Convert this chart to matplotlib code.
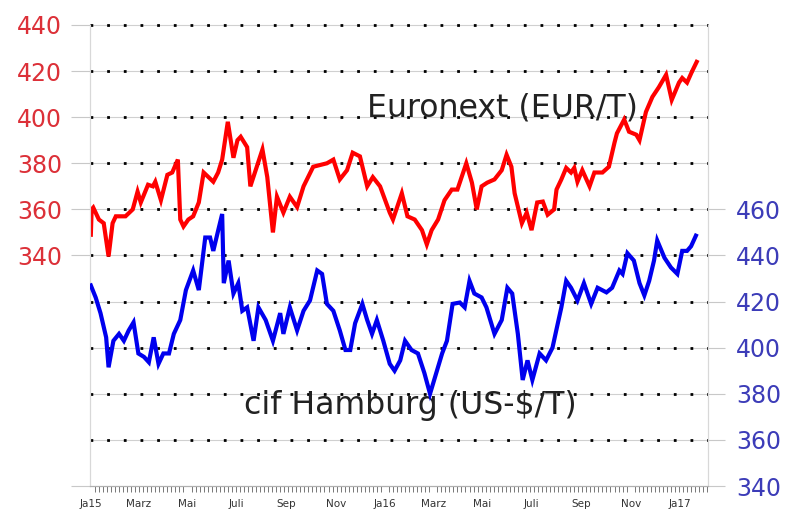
import numpy as np
import matplotlib
matplotlib.use("Agg")
import matplotlib.pyplot as plt
import matplotlib.dates as mdates
from matplotlib.ticker import FixedLocator

# days since 2015-01-01 and prices
euronext_days = [0, 1, 3, 10, 16, 22, 27, 31, 43, 52, 58, 62, 71, 77, 80, 87, 95, 101, 108, 111,
                 115, 121, 127, 134, 140, 146, 152, 158, 163, 170, 177, 182, 186, 194, 198, 213,
                 219, 226, 231, 239, 247, 256, 264, 276, 293, 301, 309, 318, 325, 334, 343, 350,
                 359, 371, 375, 386, 393, 402, 411, 417, 423, 431, 439, 448, 455, 466, 473, 479,
                 485, 492, 501, 510, 516, 522, 526, 535, 541, 547, 554, 561, 567, 575, 578, 584,
                 590, 596, 600, 604, 610, 619, 625, 635, 643, 650, 653, 662, 668, 677, 681, 689,
                 697, 705, 714, 721, 730, 734, 740, 746, 752]
euronext = [349, 360, 360.8, 355.6, 354, 339.6, 354, 357, 357, 360, 367.7, 363, 370.7, 370, 372,
            364, 375, 376, 381.6, 355.6, 352.6, 355.6, 357, 363, 376, 374, 372, 376, 381.6, 398,
            382.4, 390, 391.5, 387, 370, 386, 374, 350, 365.5, 358.6, 365.5, 361, 370, 378.5, 380,
            381.6, 373, 377, 384.6, 383, 370, 374, 370, 358.6, 355.6, 367, 357, 355.6, 351, 344.8,
            351, 355.6, 364, 368.6, 368.6, 380, 371.6, 360, 370, 371.6, 373, 377, 383.7, 378.5,
            367, 354, 358.6, 351, 363, 363.4, 357.7, 360, 368.6, 373, 378, 376, 378, 372, 377, 370,
            376, 376, 378.5, 389, 393, 399, 393.7, 392.4, 390, 402.3, 408.8, 413, 418.4, 407.5,
            415, 417, 415, 419.7, 424]

hamburg_days = [0, 6, 12, 19, 22, 28, 35, 41, 47, 53, 59, 66, 72, 78, 84, 90, 97, 103, 111, 118,
                127, 134, 142, 148, 152, 158, 163, 165, 171, 177, 183, 188, 194, 202, 208, 217,
                226, 235, 239, 247, 256, 264, 272, 281, 287, 293, 301, 309, 316, 322, 328, 337,
                343, 349, 355, 363, 371, 377, 384, 390, 398, 406, 414, 421, 427, 436, 442, 449,
                458, 464, 470, 476, 485, 491, 501, 510, 517, 523, 530, 536, 542, 548, 557, 565,
                573, 578, 584, 590, 596, 604, 612, 621, 629, 640, 647, 656, 660, 666, 674, 681,
                687, 693, 699, 703, 712, 720, 728, 734, 740, 745, 751]
hamburg = [427, 421.8, 415, 404.5, 391.5, 403, 406, 403, 407.5, 411, 397.5, 396, 393.7, 404.5,
           393, 397.5, 397.5, 406, 412, 425, 433.5, 425, 447.8, 447.8, 442, 450.8, 458, 428,
           437.8, 423.5, 428, 416, 417.5, 403, 417.5, 412, 403, 415, 406, 417.5, 407.5, 416,
           420.5, 433.5, 432, 419, 416, 407.5, 399, 399, 410.6, 419, 412, 406, 412, 403, 393,
           390, 394.5, 403, 399, 397.5, 389, 380, 387, 397.5, 403, 419, 419.6, 417.5, 429,
           423.5, 421.8, 417.5, 406, 412, 426, 423.5, 406, 386, 394.5, 386, 397.5, 394.5, 400,
           408, 417.5, 429, 426, 420.5, 428, 419, 426, 424, 426, 433.5, 432, 441, 437.8, 428,
           422.7, 429, 437.8, 446.5, 439, 434.8, 432, 442, 442, 444, 448.6]

month_labels = ["Ja15", "Marz", "Mai", "Juli", "Sep", "Nov",
                "Ja16", "Marz", "Mai", "Juli", "Sep", "Nov", "Ja17"]
left_ticks = [240, 340, 360, 380, 400, 420, 440]
left_labels = ["", "340", "360", "380", "400", "420", "440"]
right_ticks = [340, 360, 380, 400, 420, 440, 460]
grid_levels = [260, 280, 300, 320, 340, 360, 380, 400, 420, 440]

start = np.datetime64("2015-01-01")
x_eur = start + np.array(euronext_days).astype("timedelta64[D]")
x_ham = start + np.array(hamburg_days).astype("timedelta64[D]")

fig = plt.figure(figsize=(7.87, 5.13), dpi=100)
ax = fig.add_axes([0.1144, 0.0526, 0.7852, 0.8987])
ax2 = ax.twinx()

ax.set_ylim(240, 440)
ax2.set_ylim(340, 540)
ax.set_xlim(np.datetime64("2014-12-31"), np.datetime64("2017-02-05"))

for g in grid_levels:
    ax.axhline(g, color="#d0d0d0", lw=0.8, zorder=1, clip_on=False)
    ax.axhline(g, color="black", lw=2, ls=(0, (1, 5)), zorder=1.5, clip_on=False)

ax.plot(x_eur, euronext, color="#ff0000", lw=3, zorder=3, solid_joinstyle="miter")
ax2.plot(x_ham, hamburg, color="#0000ee", lw=3, zorder=3, solid_joinstyle="miter")

ax.text(0.667, 0.82, "Euronext (EUR/T)", transform=ax.transAxes, ha="center", va="center",
        fontsize=22.7, color="#222222")
ax.text(0.518, 0.175, "cif Hamburg (US-$/T)", transform=ax.transAxes, ha="center", va="center",
        fontsize=22.7, color="#222222")

# y axes
ax.set_yticks(left_ticks)
ax.set_yticklabels(left_labels)
ax.tick_params(axis="y", length=14, width=0.8, color="#c8c8c8", pad=6,
               labelsize=17, labelcolor="#dc3038")
ax2.set_yticks(right_ticks)
ax2.tick_params(axis="y", length=12, width=0.8, color="#c8c8c8", pad=8,
                labelsize=17, labelcolor="#3c3cb8")

# x axis: labels every two months, small ticks every five days
ax.xaxis.set_major_locator(mdates.MonthLocator(bymonth=[1, 3, 5, 7, 9, 11]))
ax.set_xticks(ax.get_xticks())
ax.set_xticklabels(month_labels)
small = start + np.arange(0, 766, 5).astype("timedelta64[D]")
ax.xaxis.set_minor_locator(FixedLocator(mdates.date2num(small)))
ax.tick_params(axis="x", which="major", length=0, labelsize=7.5,
               labelcolor="#333333", pad=9)
ax.tick_params(axis="x", which="minor", length=4, direction="out", width=0.7,
               color="#777777")

for a in (ax, ax2):
    a.spines["top"].set_visible(False)
    a.spines["left"].set_color("#d8d8d8")
    a.spines["right"].set_color("#d8d8d8")
    a.spines["bottom"].set_color("#b0b0b0")
    a.patch.set_visible(False)

fig.savefig("out.png", dpi=100)
